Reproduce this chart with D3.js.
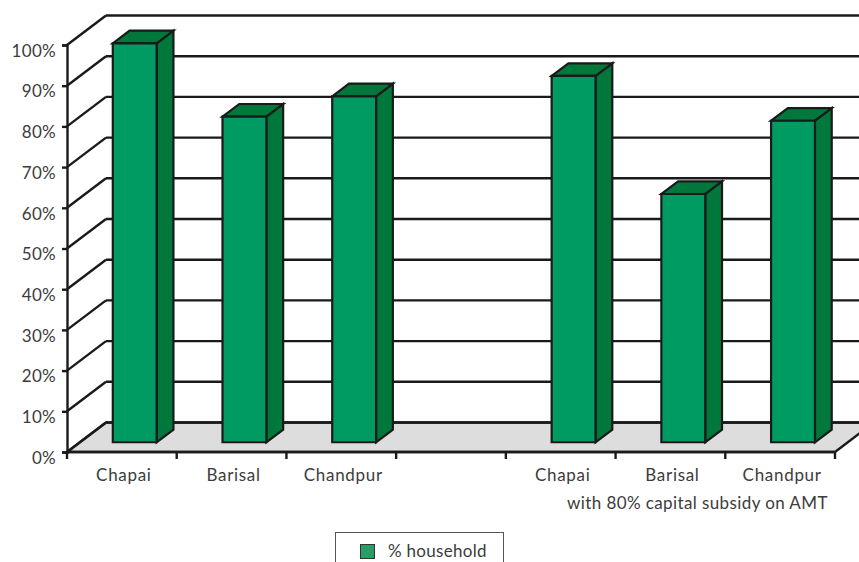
<!DOCTYPE html>
<html>
<head>
<meta charset="utf-8">
<script src="https://cdn.jsdelivr.net/npm/d3@7/dist/d3.min.js"></script>
<style>
  html, body { margin: 0; padding: 0; background: #fff; }
  svg { display: block; }
  text { font-family: Lato, "Open Sans", sans-serif; fill: #3c3c3c; }
</style>
</head>
<body>
<svg id="chart" width="859" height="562"></svg>
<script>
// Categories along the x axis (the empty slot separates the two groups)
const categories = ["Chapai", "Barisal", "Chandpur", "", "Chapai", "Barisal", "Chandpur"];
// Share of households, in percent
const householdPct = [98, 80, 85, null, 90, 61, 79];
// Value axis ticks
const yTicks = [0, 10, 20, 30, 40, 50, 60, 70, 80, 90, 100];
const groupLabel = "with 80% capital subsidy on AMT";
const seriesName = "% household";

const W = 859, H = 562;
const svg = d3.select("#chart");

const frontColor = "#009a63";
const sideColor = "#00783c";
const lineColor = "#1a1a1a";
const floorColor = "#dddddd";
const textColor = "#3c3c3c";

// Front plane scales
const x = d3.scaleBand().domain(d3.range(categories.length)).range([67, 835]).padding(0);
const y = d3.scaleLinear().domain([0, 100]).range([452, 45]);

// Oblique depth offset of the back wall
const DX = 39, DY = -29.5;
const P = (px, py, f) => [px + f * DX, py + f * DY];

const xLeft = x.range()[0], xRight = x.range()[1];

// Floor
svg.append("polygon")
  .attr("points", [P(xLeft, y(0), 0), P(xRight, y(0), 0), P(xRight, y(0), 1), P(xLeft, y(0), 1)].join(" "))
  .attr("fill", floorColor)
  .attr("stroke", lineColor)
  .attr("stroke-width", 2.4)
  .attr("stroke-linejoin", "miter");

// Back wall gridlines
svg.append("g").selectAll("line").data(yTicks).join("line")
  .attr("x1", d => P(xLeft, y(d), 1)[0])
  .attr("y1", d => P(xLeft, y(d), 1)[1])
  .attr("x2", d => P(xRight, y(d), 1)[0])
  .attr("y2", d => P(xRight, y(d), 1)[1])
  .attr("stroke", lineColor)
  .attr("stroke-width", 2.4);

// Side wall diagonals
svg.append("g").selectAll("line").data(yTicks).join("line")
  .attr("x1", xLeft)
  .attr("y1", d => y(d))
  .attr("x2", d => P(xLeft, y(d), 1)[0])
  .attr("y2", d => P(xLeft, y(d), 1)[1])
  .attr("stroke", lineColor)
  .attr("stroke-width", 2.4);

// 3D bars
const f0 = 0.33, f1 = 0.76;
const barFrac = 0.4;
const bars = svg.append("g").selectAll("g")
  .data(householdPct.map((v, i) => ({ v, i })).filter(d => d.v != null))
  .join("g");

bars.each(function (d) {
  const g = d3.select(this);
  const c = x(d.i) + x.bandwidth() / 2;
  const w = x.bandwidth() * barFrac;
  const xl = c - w / 2, xr = c + w / 2;
  const yt = y(d.v), yb = y(0);

  // right side face
  g.append("polygon")
    .attr("points", [P(xr, yt, f0), P(xr, yt, f1), P(xr, yb, f1), P(xr, yb, f0)].join(" "))
    .attr("fill", sideColor);
  // top face
  g.append("polygon")
    .attr("points", [P(xl, yt, f0), P(xr, yt, f0), P(xr, yt, f1), P(xl, yt, f1)].join(" "))
    .attr("fill", sideColor);
  // front face
  g.append("polygon")
    .attr("points", [P(xl, yt, f0), P(xr, yt, f0), P(xr, yb, f0), P(xl, yb, f0)].join(" "))
    .attr("fill", frontColor);

  g.selectAll("polygon")
    .attr("stroke", lineColor)
    .attr("stroke-width", 2.2)
    .attr("stroke-linejoin", "miter");
});

// Value axis
const yAxis = d3.axisLeft(y)
  .tickValues(yTicks)
  .tickFormat(d => d + "%")
  .tickSize(5)
  .tickPadding(6);

const gy = svg.append("g")
  .attr("transform", `translate(${xLeft},0)`)
  .call(yAxis);
gy.select(".domain").attr("stroke", lineColor).attr("stroke-width", 2.4);
gy.selectAll(".tick line").attr("stroke", lineColor).attr("stroke-width", 2.4);
gy.selectAll(".tick text")
  .attr("dy", "0.66em")
  .style("font-size", "17px")
  .style("font-family", "Lato, sans-serif")
  .style("letter-spacing", "0.3px")
  .attr("fill", textColor);

// Category axis
const xAxis = d3.axisBottom(x)
  .tickFormat(i => categories[i])
  .tickSize(0)
  .tickPadding(17);

const gx = svg.append("g")
  .attr("transform", `translate(0,${y(0)})`)
  .call(xAxis);
gx.select(".domain").remove();
gx.selectAll(".tick text")
  .attr("dx", 2)
  .style("font-size", "17px")
  .style("font-family", "Lato, sans-serif")
  .style("letter-spacing", "0.7px")
  .attr("fill", textColor);

// Front edge of the floor and category boundary ticks
svg.append("line")
  .attr("x1", xLeft).attr("x2", xRight)
  .attr("y1", y(0)).attr("y2", y(0))
  .attr("stroke", lineColor).attr("stroke-width", 2.4);

const bounds = x.domain().map(i => x(i)).concat([xRight]);
svg.append("g").selectAll("line").data(bounds).join("line")
  .attr("x1", d => d).attr("x2", d => d)
  .attr("y1", y(0)).attr("y2", y(0) + 7)
  .attr("stroke", lineColor).attr("stroke-width", 2.4);

// Group caption under the second set of bars
const gStart = x(4), gEnd = xRight;
svg.append("text")
  .attr("x", (gStart + gEnd) / 2 + 27)
  .attr("y", 509)
  .attr("text-anchor", "middle")
  .style("font-size", "17px")
  .style("letter-spacing", "0.4px")
  .text(groupLabel);

// Legend
const leg = svg.append("g");
leg.append("rect")
  .attr("x", 335.5).attr("y", 532.5)
  .attr("width", 168).attr("height", 40)
  .attr("fill", "#fff")
  .attr("stroke", "#555")
  .attr("stroke-width", 1);
leg.append("rect")
  .attr("x", 360.5).attr("y", 544.5)
  .attr("width", 14).attr("height", 14)
  .attr("fill", "#2a9d66")
  .attr("stroke", "#333")
  .attr("stroke-width", 1);
leg.append("text")
  .attr("x", 388).attr("y", 557)
  .style("font-size", "17px")
  .style("letter-spacing", "0.3px")
  .text(seriesName);
</script>
</body>
</html>
